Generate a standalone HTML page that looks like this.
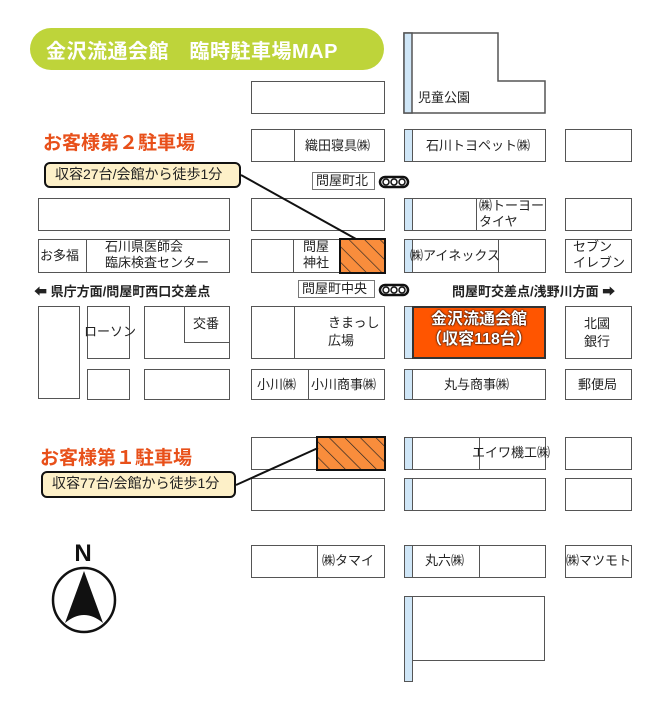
<!DOCTYPE html>
<html><head><meta charset="utf-8"><style>
body{margin:0;width:658px;height:714px;background:#fff;position:relative;overflow:hidden;font-family:"Liberation Sans","Noto Sans CJK JP",sans-serif;color:#222}
.b{position:absolute;box-sizing:border-box;border:1.5px solid #555;background:#fff}
.s{position:absolute;background:#cfe6f7;border:1.5px solid #555;box-sizing:border-box;width:9px}
.t{position:absolute;font-size:13px;line-height:17px;white-space:nowrap}
.lab{position:absolute;border:1px solid #777;background:#fff;font-size:13px;line-height:16px;padding:0 3px;box-sizing:border-box}
.big{position:absolute;color:#e8501a;font-weight:bold;font-size:19px;white-space:nowrap}
.call{position:absolute;background:#fdf0c8;border:2px solid #111;border-radius:6px;box-sizing:border-box;font-size:14px;line-height:21px;padding-left:9px;white-space:nowrap}
.road{position:absolute;font-size:13px;font-weight:bold;white-space:nowrap}
</style></head><body>
<div style="position:absolute;left:30px;top:28px;width:354px;height:42px;border-radius:21px;background:#bed43a"></div>
<div style="position:absolute;left:46px;top:35px;color:#fff;font-weight:bold;font-size:20px;white-space:nowrap;letter-spacing:0.5px">金沢流通会館　臨時駐車場MAP</div>

<div class="b" style="left:251px;top:81px;width:134px;height:33px"></div>
<svg style="position:absolute;left:0;top:0" width="658" height="714">
<path d="M404 33 H498 V81 H545 V113 H404 Z" fill="#fff" stroke="#555" stroke-width="1.5"/>
<rect x="404" y="33" width="8" height="80" fill="#cfe6f7" stroke="#555" stroke-width="1.5"/>
</svg>
<div class="t" style="left:418px;top:89px">児童公園</div>

<div class="b" style="left:251px;top:129px;width:134px;height:33px"></div>
<div class="b" style="left:294px;top:129px;width:91px;height:33px;border-left:1.5px solid #555"></div>
<div class="t" style="left:305px;top:137px">織田寝具㈱</div>
<div class="b" style="left:404px;top:129px;width:142px;height:33px"></div><div class="s" style="left:404px;top:129px;height:33px"></div>
<div class="t" style="left:426px;top:137px">石川トヨペット㈱</div>
<div class="b" style="left:565px;top:129px;width:67px;height:33px"></div>

<div class="big" style="left:43px;top:128px">お客様第２駐車場</div>
<div class="call" style="left:44px;top:162px;width:197px;height:26px">収容27台/会館から徒歩1分</div>
<div class="lab" style="left:312px;top:172px;width:63px;height:18px">問屋町北</div>

<div class="b" style="left:38px;top:198px;width:192px;height:33px"></div>
<div class="b" style="left:251px;top:198px;width:134px;height:33px"></div>
<div class="b" style="left:404px;top:198px;width:142px;height:33px"></div><div class="s" style="left:404px;top:198px;height:33px"></div>
<div class="b" style="left:476px;top:198px;width:70px;height:33px"></div>
<div class="t" style="left:479px;top:198px;line-height:16px">㈱トーヨー<br>タイヤ</div>
<div class="b" style="left:565px;top:198px;width:67px;height:33px"></div>

<div class="b" style="left:38px;top:239px;width:192px;height:34px"></div>
<div class="b" style="left:86px;top:239px;width:144px;height:34px"></div>
<div class="t" style="left:40px;top:247px">お多福</div>
<div class="t" style="left:105px;top:239px;line-height:16px">石川県医師会<br>臨床検査センター</div>
<div class="b" style="left:251px;top:239px;width:134px;height:34px"></div>
<div class="b" style="left:293px;top:239px;width:92px;height:34px"></div>
<div class="t" style="left:303px;top:239px;line-height:16px">問屋<br>神社</div>
<div class="b" style="left:404px;top:239px;width:142px;height:34px"></div><div class="s" style="left:404px;top:239px;height:34px"></div>
<div class="b" style="left:498px;top:239px;width:48px;height:34px"></div>
<div class="t" style="left:410px;top:247px">㈱アイネックス</div>
<div class="b" style="left:565px;top:239px;width:67px;height:34px"></div>
<div class="t" style="left:573px;top:239px;line-height:16px">セブン<br>イレブン</div>

<div class="road" style="left:34px;top:281px">⬅ 県庁方面/問屋町西口交差点</div>
<div class="lab" style="left:298px;top:280px;width:77px;height:18px">問屋町中央</div>
<div class="road" style="left:452px;top:281px">問屋町交差点/浅野川方面 ➡</div>

<div class="b" style="left:38px;top:306px;width:42px;height:93px"></div>
<div class="b" style="left:87px;top:306px;width:43px;height:53px"></div>
<div class="t" style="left:84px;top:323px">ローソン</div>
<div class="b" style="left:144px;top:306px;width:86px;height:53px"></div>
<div class="b" style="left:184px;top:306px;width:46px;height:37px"></div>
<div class="t" style="left:193px;top:315px">交番</div>
<div class="b" style="left:251px;top:306px;width:134px;height:53px"></div>
<div class="b" style="left:294px;top:306px;width:91px;height:53px"></div>
<div class="t" style="left:328px;top:314px;line-height:18px">きまっし<br>広場</div>
<div class="b" style="left:404px;top:306px;width:142px;height:53px"></div><div class="s" style="left:404px;top:306px;height:53px"></div>
<div style="position:absolute;left:412px;top:306px;width:134px;height:53px;background:#ff5500;border:2px solid #333;box-sizing:border-box"></div>
<div style="position:absolute;left:412px;top:310px;width:134px;text-align:center;color:#fff;font-weight:bold;font-size:16px;line-height:20px;text-shadow:0 0 2px #000,0 0 1px #000">金沢流通会館<br>（収容118台）</div>
<div class="b" style="left:565px;top:306px;width:67px;height:53px"></div>
<div class="t" style="left:584px;top:315px;line-height:18px">北國<br>銀行</div>

<div class="b" style="left:87px;top:369px;width:43px;height:31px"></div>
<div class="b" style="left:144px;top:369px;width:86px;height:31px"></div>
<div class="b" style="left:251px;top:369px;width:134px;height:31px"></div>
<div class="b" style="left:308px;top:369px;width:77px;height:31px"></div>
<div class="t" style="left:257px;top:376px">小川㈱</div>
<div class="t" style="left:311px;top:376px">小川商事㈱</div>
<div class="b" style="left:404px;top:369px;width:142px;height:31px"></div><div class="s" style="left:404px;top:369px;height:31px"></div>
<div class="t" style="left:444px;top:376px">丸与商事㈱</div>
<div class="b" style="left:565px;top:369px;width:67px;height:31px"></div>
<div class="t" style="left:578px;top:376px">郵便局</div>

<div class="b" style="left:251px;top:437px;width:134px;height:33px"></div>
<div class="b" style="left:404px;top:437px;width:142px;height:33px"></div><div class="s" style="left:404px;top:437px;height:33px"></div>
<div class="b" style="left:479px;top:437px;width:67px;height:33px"></div>
<div class="t" style="left:472px;top:444px">エイワ機工㈱</div>
<div class="b" style="left:565px;top:437px;width:67px;height:33px"></div>
<div class="big" style="left:40px;top:443px">お客様第１駐車場</div>
<div class="call" style="left:41px;top:471px;width:195px;height:27px">収容77台/会館から徒歩1分</div>

<div class="b" style="left:251px;top:478px;width:134px;height:33px"></div>
<div class="b" style="left:404px;top:478px;width:142px;height:33px"></div><div class="s" style="left:404px;top:478px;height:33px"></div>
<div class="b" style="left:565px;top:478px;width:67px;height:33px"></div>

<div class="b" style="left:251px;top:545px;width:134px;height:33px"></div>
<div class="b" style="left:317px;top:545px;width:68px;height:33px"></div>
<div class="t" style="left:322px;top:552px">㈱タマイ</div>
<div class="b" style="left:404px;top:545px;width:142px;height:33px"></div><div class="s" style="left:404px;top:545px;height:33px"></div>
<div class="b" style="left:479px;top:545px;width:67px;height:33px"></div>
<div class="t" style="left:425px;top:552px">丸六㈱</div>
<div class="b" style="left:565px;top:545px;width:67px;height:33px;overflow:hidden"></div>
<div class="t" style="left:566px;top:552px;width:65px;overflow:hidden">㈱マツモト</div>

<div class="b" style="left:411px;top:596px;width:134px;height:65px"></div>
<div class="s" style="left:404px;top:596px;height:86px"></div>

<svg style="position:absolute;left:0;top:0" width="658" height="714">
<defs><pattern id="h" patternUnits="userSpaceOnUse" width="11" height="11" patternTransform="rotate(-45)"><rect width="11" height="11" fill="#f98d3c"/><line x1="0" y1="0" x2="0" y2="11" stroke="#222" stroke-width="1.3"/></pattern></defs>
<rect x="340" y="239" width="45" height="34" fill="url(#h)" stroke="#111" stroke-width="2"/>
<rect x="317" y="437" width="68" height="33" fill="url(#h)" stroke="#111" stroke-width="2"/>
<line x1="241" y1="175" x2="356" y2="239" stroke="#111" stroke-width="2"/>
<line x1="236" y1="485" x2="318" y2="448" stroke="#111" stroke-width="2"/>
<g fill="#fff" stroke="#111" stroke-width="2.5">
<rect x="380" y="177" width="28" height="10" rx="5"/><rect x="380" y="285" width="28" height="10" rx="5"/></g>
<g fill="#fff" stroke="#111" stroke-width="1.5">
<circle cx="386" cy="182" r="3"/><circle cx="394" cy="182" r="3"/><circle cx="402" cy="182" r="3"/>
<circle cx="386" cy="290" r="3"/><circle cx="394" cy="290" r="3"/><circle cx="402" cy="290" r="3"/></g>
<text x="83" y="561" font-family="Liberation Sans" font-weight="bold" font-size="24" text-anchor="middle" fill="#111">N</text>
<ellipse cx="84" cy="600" rx="31" ry="32" fill="#fff" stroke="#111" stroke-width="2.5"/>
<path d="M84 571 L65 623 Q84 607 103 623 Z" fill="#111"/>
</svg>
</body></html>
